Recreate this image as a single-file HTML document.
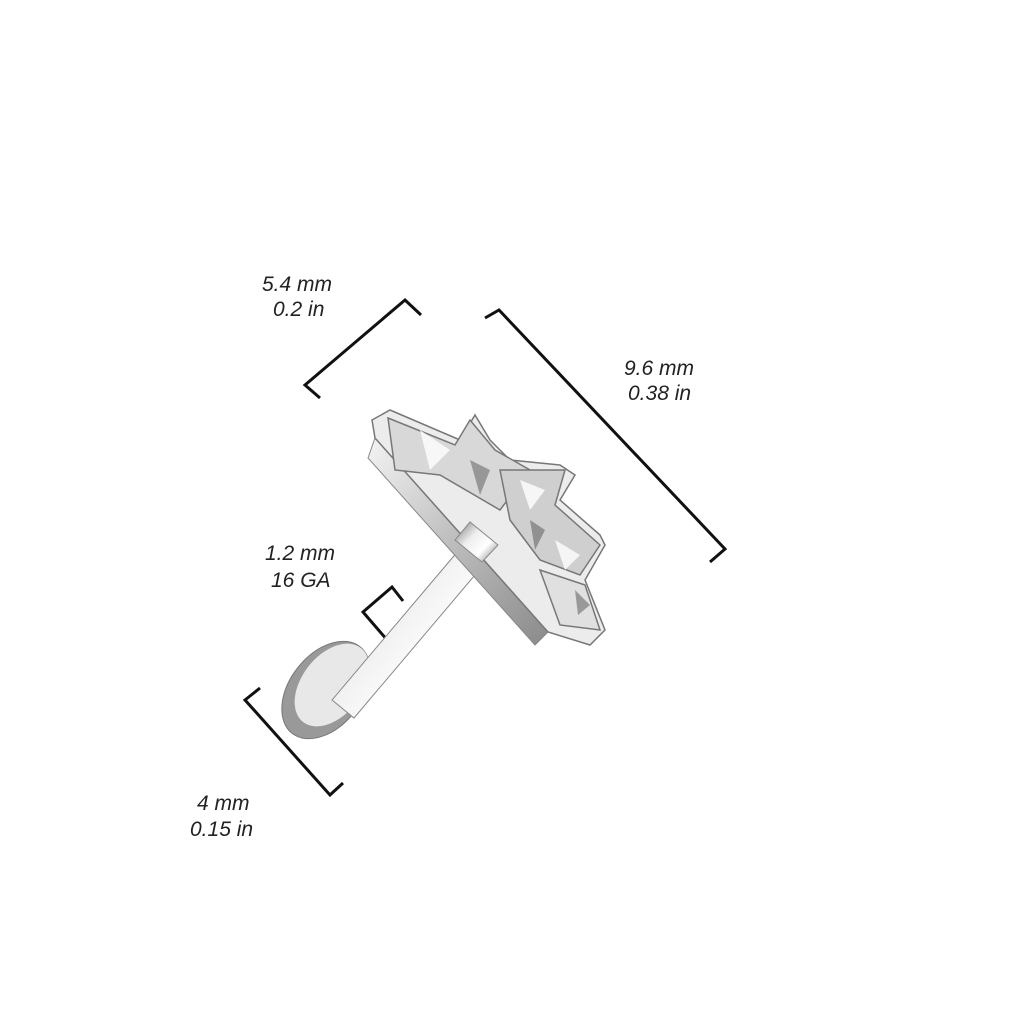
<!DOCTYPE html>
<html><head><style>
body{margin:0;background:#fff;width:1024px;height:1024px;overflow:hidden}
svg{display:block}
text{font-family:"Liberation Sans",sans-serif;font-style:italic;font-size:21px;fill:#222}
</style></head><body>
<svg width="1024" height="1024" viewBox="0 0 1024 1024">
<defs>
<linearGradient id="m" x1="0" y1="0" x2="1" y2="1">
<stop offset="0" stop-color="#f4f4f4"/><stop offset="0.5" stop-color="#bcbcbc"/><stop offset="1" stop-color="#8a8a8a"/></linearGradient>
<linearGradient id="s" x1="0" y1="0" x2="1" y2="0.9">
<stop offset="0" stop-color="#777"/><stop offset="0.4" stop-color="#eee"/><stop offset="0.7" stop-color="#fff"/><stop offset="1" stop-color="#888"/></linearGradient>
</defs>
<g stroke="#111" stroke-width="3" fill="none">
<polyline points="320,398 305,385 405,300 421,315"/>
<polyline points="485,318 499,310 725,549 710,562"/>
<polyline points="388,641 363,612 392,587 403,601"/>
<polyline points="260,688 245,700 330,795 343,783"/>
</g>
<text x="262" y="291">5.4 mm</text><text x="273" y="316">0.2 in</text>
<text x="624" y="375">9.6 mm</text><text x="628" y="400">0.38 in</text>
<text x="265" y="560">1.2 mm</text><text x="271" y="587">16 GA</text>
<text x="197" y="810">4 mm</text><text x="190" y="836">0.15 in</text>
<!-- disc -->
<ellipse cx="326" cy="690" rx="36" ry="55" transform="rotate(38 326 690)" fill="#999" stroke="#777"/>
<ellipse cx="332" cy="685" rx="30" ry="47" transform="rotate(38 332 685)" fill="#e8e8e8"/>
<!-- shaft -->
<polygon points="332,700 354,718 486,562 464,544" fill="url(#s)" stroke="#888"/>
<!-- base bar -->
<polygon points="375,438 368,458 535,645 548,632" fill="url(#m)" stroke="#888"/>
<!-- gems -->
<g stroke="#777" stroke-width="1.5">
<polygon points="372,420 390,410 460,440 475,415 490,440 510,460 560,465 575,475 560,500 600,535 605,545 585,580 605,630 590,645 548,632 375,438" fill="#ececec"/>
<polygon points="388,418 455,445 470,420 495,450 530,470 500,510 440,475 395,470" fill="#d8d8d8"/>
<polygon points="500,470 565,470 555,505 600,545 580,575 540,560 510,520" fill="#cfcfcf"/>
<polygon points="540,570 585,585 600,630 560,625" fill="#e0e0e0"/>
</g>
<g fill="#fff" opacity="0.8">
<polygon points="420,430 450,450 430,470"/><polygon points="520,480 545,490 530,510"/><polygon points="555,540 580,555 565,570"/>
</g>
<g fill="#555" opacity="0.5">
<polygon points="470,460 490,470 480,495"/><polygon points="530,520 545,530 535,550"/><polygon points="575,590 590,605 578,615"/>
</g>
<!-- collar -->
<polygon points="455,540 482,562 498,545 470,522" fill="url(#s)" stroke="#888"/>
</svg>
</body></html>
